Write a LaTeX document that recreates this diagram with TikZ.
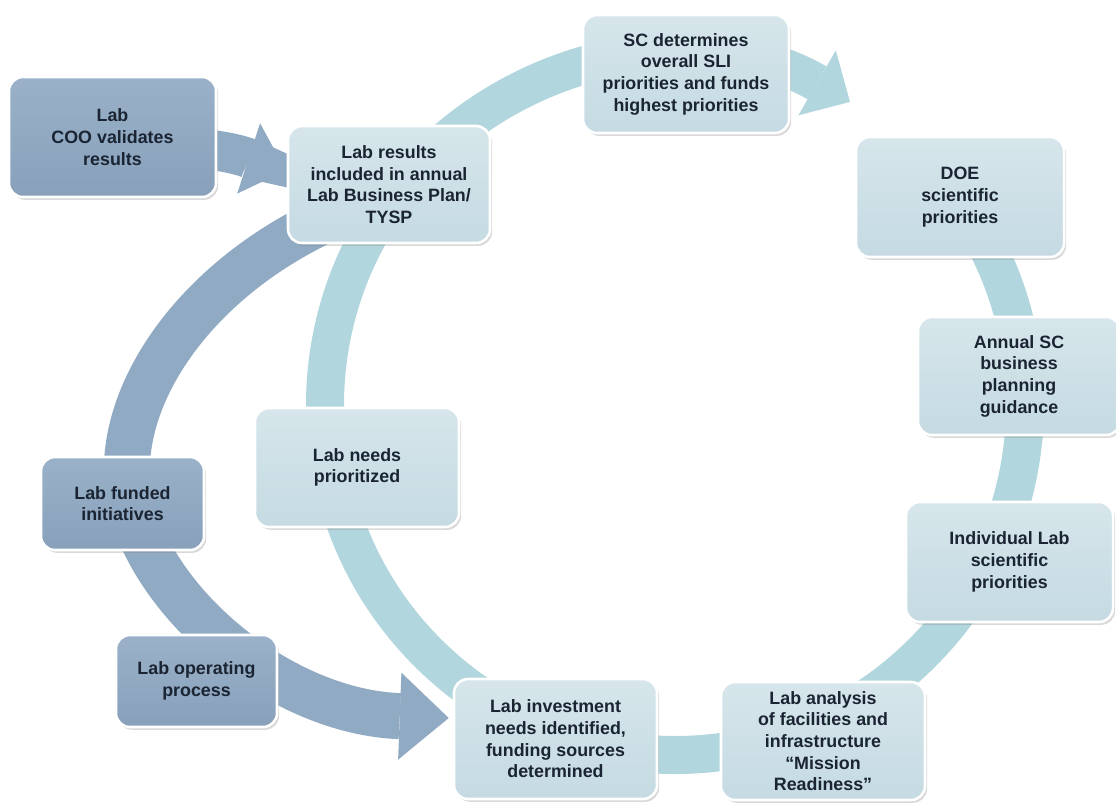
\documentclass[tikz,border=0pt]{standalone}
\usepackage{fontspec}
\setmainfont{Liberation Sans}
\usetikzlibrary{arrows.meta,% block arrow tips on the bands
shadows}%                    soft shadow under the boxes
\pgfdeclarelayer{background}
\pgfsetlayers{background,main}
\newcommand{\pxu}{0.025cm}
\definecolor{ringlight}{RGB}{178,214,222}
\definecolor{ringdark}{RGB}{145,170,195}
\definecolor{lighttop}{RGB}{214,230,235}
\definecolor{lightbot}{RGB}{197,218,226}
\definecolor{darktop}{RGB}{154,177,201}
\definecolor{darkbot}{RGB}{136,160,186}
\definecolor{inkblue}{RGB}{26,36,50}
\tikzset{every node/.style={font=\bfseries\fontsize{12.7}{15.4}\selectfont,
    text=inkblue, align=center},
  labbox/.style 2 args={draw=white, line width=1.8pt, rounded corners=0.35cm,
    minimum width=#1*\pxu, minimum height=#2*\pxu, inner sep=2pt,
    drop shadow={shadow xshift=1.5pt, shadow yshift=-2pt, opacity=0.3}},
  lightbox/.style={top color=lighttop, bottom color=lightbot},
  darkbox/.style={top color=darktop, bottom color=darkbot},
  ringband/.style={draw=ringlight, line width=0.95cm,
    -{Triangle[length=0.95cm, width=1.875cm, line width=0pt]}},
  darkband/.style={draw=ringdark, line width=1.15cm,
    -{Triangle[length=1.225cm, width=2.175cm, line width=0pt]}},
  cooband/.style={draw=ringdark, line width=1cm,
    -{Triangle[length=0.975cm, width=1.85cm, line width=0pt]}}}

\begin{document}
\begin{tikzpicture}[x=\pxu,y=\pxu]
\useasboundingbox (0,0) rectangle (1116,-803);
% outer process
\node[labbox={207}{120},darkbox] (coo) at (112.5,-137) {Lab\\COO validates\\results};
\node[labbox={163}{93},darkbox] (funded) at (122.5,-503.5) {Lab funded\\initiatives};
\node[labbox={161}{92},darkbox] (operating) at (196.5,-681) {Lab operating\\process};
% planning cycle
\node[labbox={202}{117},lightbox] (results) at (389,-184.5) {Lab results\\included in annual\\Lab Business Plan/\\TYSP};
\node[labbox={206}{118},lightbox] (sc) at (686,-74) {SC determines\\overall SLI\\priorities and funds\\highest priorities};
\node[labbox={208}{120},lightbox] (doe) at (960,-197) {DOE\\scientific\\priorities};
\node[labbox={202}{118},lightbox] (annual) at (1019,-376) {Annual SC\\business\\planning\\guidance};
\node[labbox={207}{120},lightbox] (indiv) at (1009.5,-562) {Individual Lab\\scientific\\priorities};
\node[labbox={204}{118},lightbox] (analysis) at (823,-741) {Lab analysis\\of facilities and\\infrastructure\\“Mission\\Readiness”};
\node[labbox={203}{120},lightbox] (invest) at (555.5,-739) {Lab investment\\needs identified,\\funding sources\\determined};
\node[labbox={204}{119},lightbox] (needs) at (357,-467.5) {Lab needs\\prioritized};
\begin{pgfonlayer}{background}
\coordinate (hub) at (675,-405);
\draw[ringband] (hub) ++(45:350) arc[start angle=45, end angle=-300, radius=350];
\draw[darkband] ([shift={(-69,-38)}]results.center)
  .. controls (180,-290) and (100,-420) .. (135,-520)
  .. controls (170,-620) and (290,-712) .. ([shift={(-4,21)}]invest.west);
\draw[cooband] ([shift={(-15,-12)}]coo.east) to[out=-5,in=162] ([shift={(-1,14)}]results.west);
\end{pgfonlayer}
\end{tikzpicture}
\end{document}
